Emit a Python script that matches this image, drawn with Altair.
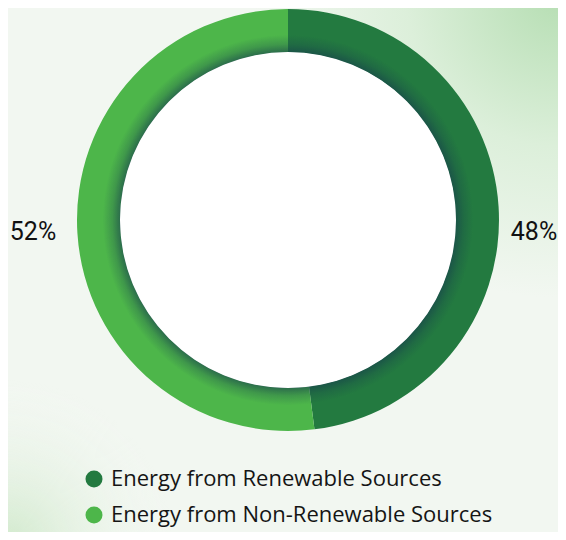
import altair as alt
import pandas as pd

categories = ["Energy from Renewable Sources", "Energy from Non-Renewable Sources"]
values = [48, 52]
labels = ["48%", "52%"]
colors = ["#237a40", "#4db64a"]

W, H = 550, 524
CX, CY = 280, 212

df = pd.DataFrame({"category": categories, "value": values, "label": labels, "order": [0, 1]})
one = pd.DataFrame({"k": [0]})

bg_base = alt.Chart(one).mark_rect(
    fill={"gradient": "radial", "x1": 1, "y1": 0, "r1": 0, "x2": 1, "y2": 0, "r2": 0.55,
          "stops": [{"offset": 0, "color": "#b6deb3"}, {"offset": 0.5, "color": "#dcefda"},
                    {"offset": 1, "color": "#f2f7f1"}]}
).encode(x=alt.value(0), x2=alt.value(W), y=alt.value(0), y2=alt.value(H))

bg_corner = alt.Chart(one).mark_rect(
    fill={"gradient": "radial", "x1": 0, "y1": 1, "r1": 0, "x2": 0, "y2": 1, "r2": 0.3,
          "stops": [{"offset": 0, "color": "rgba(205,232,200,0.9)"}, {"offset": 1, "color": "rgba(242,247,241,0)"}]}
).encode(x=alt.value(0), x2=alt.value(W), y=alt.value(0), y2=alt.value(H))

donut = alt.Chart(df).mark_arc(innerRadius=168, outerRadius=211).encode(
    theta=alt.Theta("value:Q", stack=True),
    order=alt.Order("order:Q"),
    color=alt.Color(
        "category:N",
        scale=alt.Scale(domain=categories, range=colors),
        sort=categories,
        legend=alt.Legend(
            title=None, orient="none", legendX=75, legendY=460, direction="vertical",
            symbolType="circle", symbolSize=289, symbolStrokeWidth=0,
            labelFont="Open Sans", labelFontSize=22, labelColor="#151515",
            labelOffset=6, rowPadding=14, labelLimit=500,
        ),
    ),
    x=alt.value(CX),
    y=alt.value(CY),
)

hole = alt.Chart(one).mark_arc(innerRadius=0, outerRadius=168, fill="#ffffff").encode(
    theta=alt.value(0), theta2=alt.value(6.2832), x=alt.value(CX), y=alt.value(CY)
)

shadow = alt.Chart(one).mark_arc(
    innerRadius=168, outerRadius=211,
    fill={"gradient": "radial", "x1": 0.5, "y1": 0.5, "r1": 168 / 422, "x2": 0.5, "y2": 0.5, "r2": 0.5,
          "stops": [{"offset": 0, "color": "rgba(22,62,76,0.6)"},
                    {"offset": 0.18, "color": "rgba(22,62,76,0.25)"},
                    {"offset": 0.4, "color": "rgba(22,62,76,0)"},
                    {"offset": 1, "color": "rgba(22,62,76,0)"}]}
).encode(theta=alt.value(0), theta2=alt.value(6.2832), x=alt.value(CX), y=alt.value(CY))

text = alt.Chart(df).mark_text(font="Roboto", fontSize=25, color="#111111", baseline="middle", align="center").encode(
    x=alt.X("category:N", scale=alt.Scale(type="point", domain=[categories[1], categories[0]], range=[25, 526], padding=0), axis=None),
    y=alt.value(224),
    text="label:N",
)

chart = alt.layer(bg_base, bg_corner, donut, hole, shadow, text).properties(
    width=W, height=H, autosize=alt.AutoSizeParams(type="none"), padding=0
).configure_view(stroke=None).configure(background="#f2f7f1")

chart.save("out.html", embed_options={"renderer": "svg", "actions": False})
